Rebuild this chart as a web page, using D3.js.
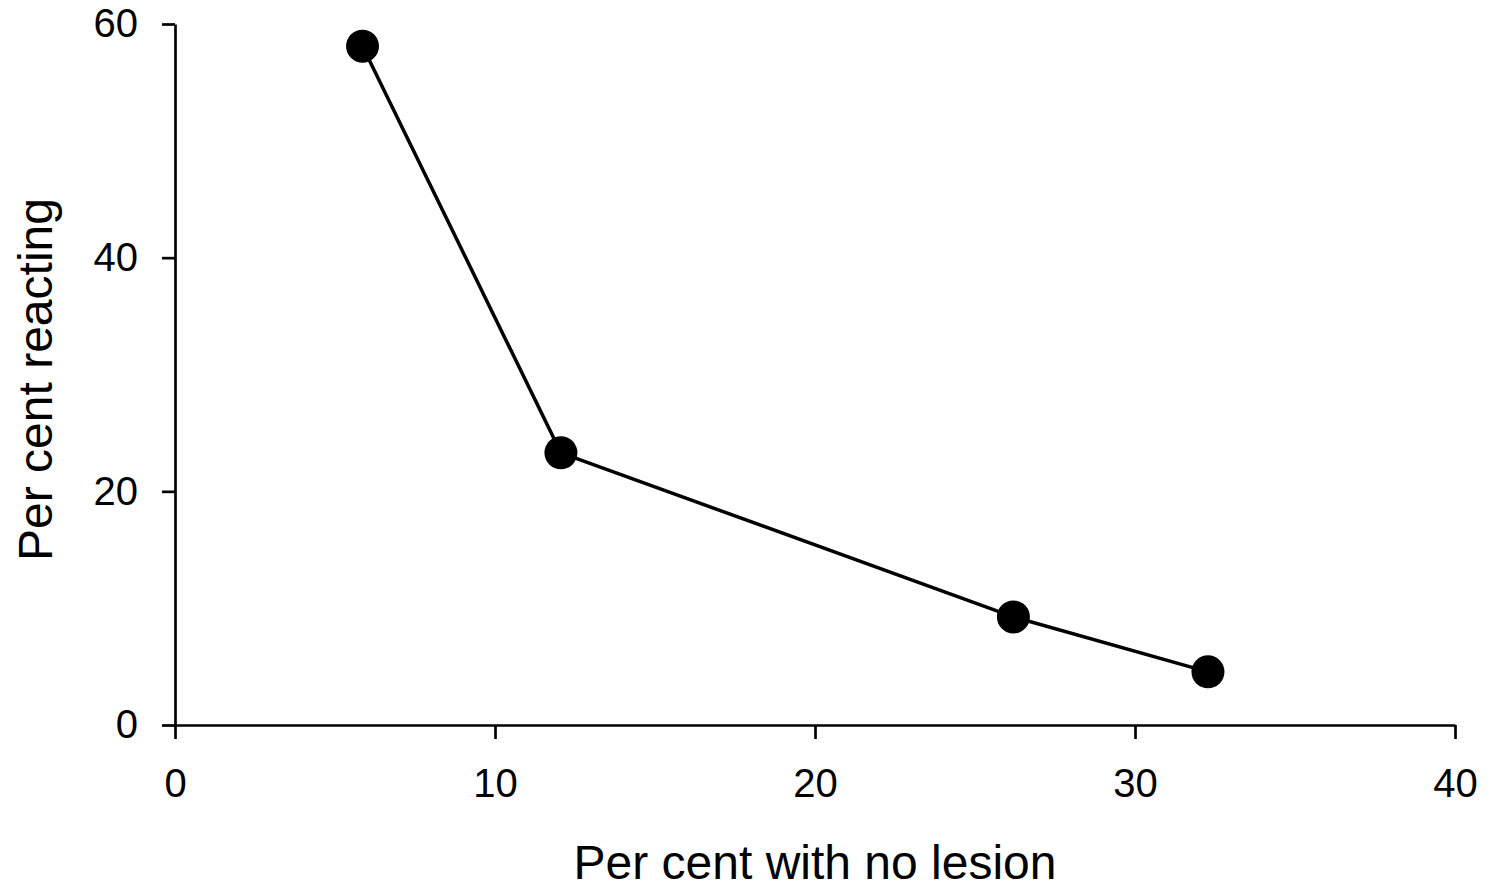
<!DOCTYPE html>
<html><head><meta charset="utf-8">
<script src="https://cdn.jsdelivr.net/npm/d3@7"></script>
<style>body{margin:0;background:#fff}svg{display:block}text{font-family:"Liberation Sans",Arial,sans-serif;fill:#000}</style>
</head><body>
<script>
const xValues = [5.86, 12.06, 26.2, 32.28];
const yValues = [58.1, 23.3, 9.25, 4.55];
const xTicks = [0, 10, 20, 30, 40];
const yTicks = [0, 20, 40, 60];
const xTitle = "Per cent with no lesion";
const yTitle = "Per cent reacting";

const W = 1488, H = 890;
const m = {left:175, right:33, top:24, bottom:165};
const svg = d3.select("body").append("svg").attr("width", W).attr("height", H);
const x = d3.scaleLinear().domain([0,40]).range([m.left, W-m.right]);
const y = d3.scaleLinear().domain([0,60]).range([H-m.bottom, m.top]);

const gx = svg.append("g").attr("transform", `translate(0,${y(0)})`)
  .call(d3.axisBottom(x).tickValues(xTicks).tickSize(14).tickSizeOuter(0).tickPadding(30));
const gy = svg.append("g").attr("transform", `translate(${x(0)},0)`)
  .call(d3.axisLeft(y).tickValues(yTicks).tickSize(13).tickSizeOuter(0).tickPadding(24));
[gx, gy].forEach(g => {
  g.selectAll(".domain").attr("stroke","#000").attr("stroke-width",2.7);
  g.selectAll(".tick line").attr("stroke","#000").attr("stroke-width",2.7);
  g.selectAll(".tick text").attr("font-size",40).attr("font-family","Liberation Sans, Arial, sans-serif").attr("fill","#000");
});
gx.selectAll(".tick text").attr("dy","0.71em");

const pts = xValues.map((v,i)=>[v, yValues[i]]);
svg.append("path").datum(pts)
  .attr("fill","none").attr("stroke","#000").attr("stroke-width",3.5)
  .attr("d", d3.line().x(d=>x(d[0])).y(d=>y(d[1])));
svg.selectAll("circle.pt").data(pts).enter().append("circle")
  .attr("class","pt").attr("cx",d=>x(d[0])).attr("cy",d=>y(d[1])).attr("r",16.5).attr("fill","#000");

svg.append("text").attr("x",(x(0)+x(40))/2).attr("y",879).attr("text-anchor","middle")
  .attr("font-size",48).text(xTitle);
svg.append("text").attr("transform",`translate(52,${(y(0)+y(60))/2+5}) rotate(-90)`).attr("text-anchor","middle")
  .attr("font-size",48).text(yTitle);
</script>
</body></html>
